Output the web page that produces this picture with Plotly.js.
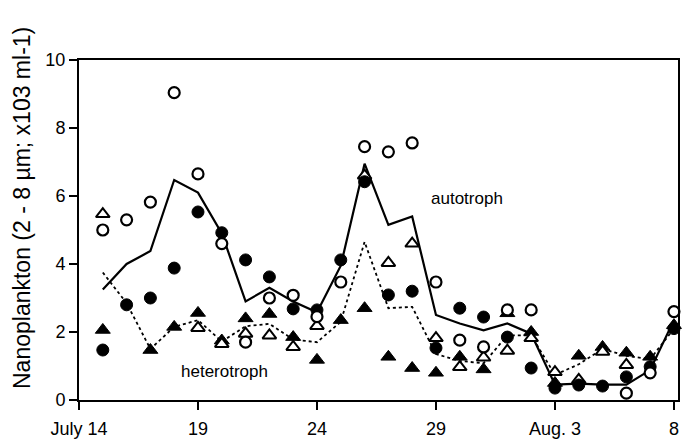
<!DOCTYPE html>
<html>
<head>
<meta charset="utf-8">
<script src="https://cdn.plot.ly/plotly-3.0.1.min.js"></script>
<style>html,body{margin:0;padding:0;background:#fff;}#chart{width:683px;height:443px;}</style>
</head>
<body>
<div id="chart"></div>
<script>
// Day of sampling (July 14 = 14 ... Aug 8 = 39)
const days = [15,16,17,18,19,20,21,22,23,24,25,26,27,28,29,30,31,32,33,34,35,36,37,38,39];
const tickDays = [14,19,24,29,34,39];
const tickLabels = ["July 14","19","24","29","Aug. 3","8"];

// Autotroph mean line (solid)
const autotrophLine = [3.25,4.0,4.38,6.47,6.1,4.9,2.9,3.3,2.9,2.58,3.95,6.95,5.15,5.4,2.5,2.25,2.05,2.25,1.95,0.45,0.48,0.45,0.45,0.88,2.35];
// Heterotroph mean line (dotted)
const heterotrophLine = [3.75,2.85,1.5,2.15,2.35,1.72,2.17,2.24,1.78,1.7,2.3,4.65,2.7,2.74,1.35,1.15,1.08,1.9,1.9,0.74,1.05,1.5,1.3,1.2,2.1];

// Autotrophs (circles)
const autoOpen   = [5.0,5.3,5.82,9.04,6.65,4.6,1.7,3.0,3.08,2.45,3.47,7.45,7.3,7.56,3.47,1.76,1.56,2.65,2.65,null,null,null,0.2,0.8,2.6];
const autoFilled = [1.47,2.8,3.0,3.88,5.53,4.92,4.12,3.62,2.68,2.65,4.12,6.42,3.09,3.2,1.53,2.7,2.44,1.85,0.94,0.35,0.44,0.41,0.68,0.98,2.1];
// Heterotrophs (triangles)
const heteroOpen   = [5.47,null,null,null,2.12,1.65,1.95,1.9,1.56,2.18,null,6.6,4.03,4.6,1.82,0.97,1.25,1.45,1.82,0.82,0.59,1.42,1.03,null,null];
const heteroFilled = [2.06,null,1.47,2.15,2.56,1.75,2.4,2.53,1.85,1.18,2.35,2.7,1.27,0.94,0.8,1.27,0.9,2.55,2.0,0.5,1.3,1.56,1.39,1.27,2.2];

const FONT = "Liberation Sans, Arial, Helvetica, sans-serif";

const traces = [
  {x: days, y: autotrophLine, mode: "lines", name: "autotroph", line: {color: "#000", width: 2.2}},
  {x: days, y: heterotrophLine, mode: "lines", name: "heterotroph", line: {color: "#000", width: 1.8, dash: "dot"}},
  {x: days, y: heteroFilled, mode: "markers", name: "heterotroph (filled)", cliponaxis: false,
   marker: {symbol: "triangle-up", size: 13, color: "#000", line: {color: "#000", width: 1}}},
  {x: days, y: heteroOpen, mode: "markers", name: "heterotroph (open)", cliponaxis: false,
   marker: {symbol: "triangle-up", size: 12, color: "#fff", line: {color: "#000", width: 2}}},
  {x: days, y: autoFilled, mode: "markers", name: "autotroph (filled)", cliponaxis: false,
   marker: {symbol: "circle", size: 12, color: "#000", line: {color: "#000", width: 1}}},
  {x: days, y: autoOpen, mode: "markers", name: "autotroph (open)", cliponaxis: false,
   marker: {symbol: "circle", size: 11, color: "#fff", line: {color: "#000", width: 2.2}}}
];

const layout = {
  width: 683, height: 443,
  margin: {l: 79, r: 5, t: 60, b: 43, pad: 0},
  paper_bgcolor: "#fff", plot_bgcolor: "#fff",
  showlegend: false,
  font: {family: FONT, color: "#000"},
  xaxis: {
    range: [14, 39.17], tickvals: tickDays, ticktext: tickLabels,
    showline: true, mirror: true, linecolor: "#000", linewidth: 2,
    ticks: "outside", ticklen: 8, tickwidth: 2, tickcolor: "#000",
    ticklabelstandoff: 3,
    showgrid: false, zeroline: false,
    tickfont: {family: FONT, size: 18, color: "#000"}
  },
  yaxis: {
    range: [0, 10], tickvals: [0,2,4,6,8,10],
    showline: true, mirror: true, linecolor: "#000", linewidth: 2,
    ticks: "outside", ticklen: 8, tickwidth: 2, tickcolor: "#000",
    showgrid: false, zeroline: false,
    tickfont: {family: FONT, size: 18, color: "#000"}
  },
  annotations: [
    {text: "Nanoplankton (2 - 8 µm; x103 ml-1)", xref: "paper", yref: "paper",
     x: -0.095, y: 0.565, xanchor: "center", yanchor: "middle", textangle: -90, showarrow: false,
     font: {family: FONT, size: 23, color: "#000"}},
    {text: "autotroph", xref: "x", yref: "y", x: 30.3, y: 5.94, showarrow: false,
     font: {family: FONT, size: 17, color: "#000"}},
    {text: "heterotroph", xref: "x", yref: "y", x: 20.13, y: 0.85, showarrow: false,
     font: {family: FONT, size: 17, color: "#000"}}
  ]
};

Plotly.newPlot("chart", traces, layout, {displayModeBar: false, staticPlot: true});
</script>
</body>
</html>
